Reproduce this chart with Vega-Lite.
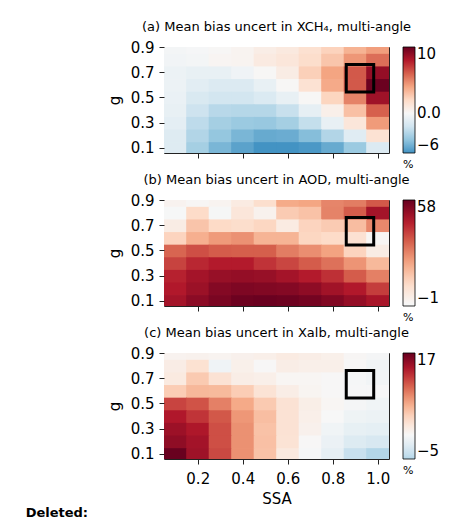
{
  "$schema": "https://vega.github.io/schema/vega-lite/v6.json",
  "padding": {"left": 25, "top": 20, "right": 0, "bottom": 0},
  "config": {
    "font": "DejaVu Sans",
    "view": {"stroke": "#222", "strokeWidth": 1},
    "axis": {"domain": false, "grid": false, "tickColor": "#222", "tickSize": 5, "tickWidth": 1, "labelFontSize": 15, "labelColor": "#000", "titleFontSize": 15, "titleFontWeight": "normal", "titleColor": "#000"},
    "axisY": {"labelPadding": 5, "titlePadding": 8},
    "axisX": {"labelPadding": 7, "titlePadding": 5},
    "legend": {"orient": "right", "offset": 14, "padding": 0, "gradientLength": 106, "gradientThickness": 12, "gradientStrokeColor": "#000", "gradientStrokeWidth": 0.8, "labelFontSize": 15, "labelColor": "#000", "labelOffset": 7, "labelBaseline": "middle", "labelOverlap": false, "titleOrient": "bottom", "titleFontSize": 11, "titleFontWeight": "normal", "titleColor": "#000", "titleAnchor": "start", "titlePadding": 6}
  },
  "datasets": {
    "box": [{"x1": 0.86, "x2": 0.982, "y1": 0.543, "y2": 0.762}],
    "a": [
      {"ssa":0.1,"g":0.9,"v":-0.2},{"ssa":0.2,"g":0.9,"v":-0.1},{"ssa":0.3,"g":0.9,"v":0.1},{"ssa":0.4,"g":0.9,"v":0.3},{"ssa":0.5,"g":0.9,"v":0.7},{"ssa":0.6,"g":0.9,"v":1.0},{"ssa":0.7,"g":0.9,"v":1.6},{"ssa":0.8,"g":0.9,"v":2.3},{"ssa":0.9,"g":0.9,"v":3.5},{"ssa":1.0,"g":0.9,"v":4.2},
      {"ssa":0.1,"g":0.8,"v":-0.3},{"ssa":0.2,"g":0.8,"v":-0.2},{"ssa":0.3,"g":0.8,"v":0.2},{"ssa":0.4,"g":0.8,"v":0.3},{"ssa":0.5,"g":0.8,"v":0.9},{"ssa":0.6,"g":0.8,"v":1.2},{"ssa":0.7,"g":0.8,"v":1.8},{"ssa":0.8,"g":0.8,"v":2.8},{"ssa":0.9,"g":0.8,"v":4.4},{"ssa":1.0,"g":0.8,"v":5.6},
      {"ssa":0.1,"g":0.7,"v":-0.6},{"ssa":0.2,"g":0.7,"v":-0.8},{"ssa":0.3,"g":0.7,"v":-0.8},{"ssa":0.4,"g":0.7,"v":-0.4},{"ssa":0.5,"g":0.7,"v":0.1},{"ssa":0.6,"g":0.7,"v":0.8},{"ssa":0.7,"g":0.7,"v":2.4},{"ssa":0.8,"g":0.7,"v":4.0},{"ssa":0.9,"g":0.7,"v":6.2},{"ssa":1.0,"g":0.7,"v":8.8},
      {"ssa":0.1,"g":0.6,"v":-0.6},{"ssa":0.2,"g":0.6,"v":-1.1},{"ssa":0.3,"g":0.6,"v":-1.4},{"ssa":0.4,"g":0.6,"v":-1.4},{"ssa":0.5,"g":0.6,"v":-0.8},{"ssa":0.6,"g":0.6,"v":0.1},{"ssa":0.7,"g":0.6,"v":1.5},{"ssa":0.8,"g":0.6,"v":3.8},{"ssa":0.9,"g":0.6,"v":6.2},{"ssa":1.0,"g":0.6,"v":9.9},
      {"ssa":0.1,"g":0.5,"v":-0.7},{"ssa":0.2,"g":0.5,"v":-1.6},{"ssa":0.3,"g":0.5,"v":-1.9},{"ssa":0.4,"g":0.5,"v":-1.9},{"ssa":0.5,"g":0.5,"v":-1.5},{"ssa":0.6,"g":0.5,"v":-0.8},{"ssa":0.7,"g":0.5,"v":0.1},{"ssa":0.8,"g":0.5,"v":2.2},{"ssa":0.9,"g":0.5,"v":5.0},{"ssa":1.0,"g":0.5,"v":8.5},
      {"ssa":0.1,"g":0.4,"v":-0.8},{"ssa":0.2,"g":0.4,"v":-2.1},{"ssa":0.3,"g":0.4,"v":-2.8},{"ssa":0.4,"g":0.4,"v":-2.9},{"ssa":0.5,"g":0.4,"v":-2.9},{"ssa":0.6,"g":0.4,"v":-2.3},{"ssa":0.7,"g":0.4,"v":-0.9},{"ssa":0.8,"g":0.4,"v":0.6},{"ssa":0.9,"g":0.4,"v":3.0},{"ssa":1.0,"g":0.4,"v":6.0},
      {"ssa":0.1,"g":0.3,"v":-1.0},{"ssa":0.2,"g":0.3,"v":-2.6},{"ssa":0.3,"g":0.3,"v":-3.4},{"ssa":0.4,"g":0.3,"v":-3.7},{"ssa":0.5,"g":0.3,"v":-3.8},{"ssa":0.6,"g":0.3,"v":-3.4},{"ssa":0.7,"g":0.3,"v":-2.4},{"ssa":0.8,"g":0.3,"v":-0.8},{"ssa":0.9,"g":0.3,"v":1.2},{"ssa":1.0,"g":0.3,"v":4.3},
      {"ssa":0.1,"g":0.2,"v":-1.3},{"ssa":0.2,"g":0.2,"v":-3.0},{"ssa":0.3,"g":0.2,"v":-3.9},{"ssa":0.4,"g":0.2,"v":-4.6},{"ssa":0.5,"g":0.2,"v":-5.1},{"ssa":0.6,"g":0.2,"v":-5.0},{"ssa":0.7,"g":0.2,"v":-4.3},{"ssa":0.8,"g":0.2,"v":-3.0},{"ssa":0.9,"g":0.2,"v":-1.2},{"ssa":1.0,"g":0.2,"v":1.5},
      {"ssa":0.1,"g":0.1,"v":-1.3},{"ssa":0.2,"g":0.1,"v":-3.4},{"ssa":0.3,"g":0.1,"v":-4.6},{"ssa":0.4,"g":0.1,"v":-5.4},{"ssa":0.5,"g":0.1,"v":-6.0},{"ssa":0.6,"g":0.1,"v":-6.0},{"ssa":0.7,"g":0.1,"v":-5.8},{"ssa":0.8,"g":0.1,"v":-5.1},{"ssa":0.9,"g":0.1,"v":-3.7},{"ssa":1.0,"g":0.1,"v":-1.4}
    ],
    "b": [
      {"ssa":0.1,"g":0.9,"v":2},{"ssa":0.2,"g":0.9,"v":0.8},{"ssa":0.3,"g":0.9,"v":1.8},{"ssa":0.4,"g":0.9,"v":5},{"ssa":0.5,"g":0.9,"v":10},{"ssa":0.6,"g":0.9,"v":22},{"ssa":0.7,"g":0.9,"v":23},{"ssa":0.8,"g":0.9,"v":28.5},{"ssa":0.9,"g":0.9,"v":30},{"ssa":1.0,"g":0.9,"v":36},
      {"ssa":0.1,"g":0.8,"v":-0.3},{"ssa":0.2,"g":0.8,"v":11},{"ssa":0.3,"g":0.8,"v":-0.6},{"ssa":0.4,"g":0.8,"v":7},{"ssa":0.5,"g":0.8,"v":2.5},{"ssa":0.6,"g":0.8,"v":15},{"ssa":0.7,"g":0.8,"v":17},{"ssa":0.8,"g":0.8,"v":29},{"ssa":0.9,"g":0.8,"v":35.5},{"ssa":1.0,"g":0.8,"v":48.5},
      {"ssa":0.1,"g":0.7,"v":4.5},{"ssa":0.2,"g":0.7,"v":16.5},{"ssa":0.3,"g":0.7,"v":11.5},{"ssa":0.4,"g":0.7,"v":10.5},{"ssa":0.5,"g":0.7,"v":12.5},{"ssa":0.6,"g":0.7,"v":5},{"ssa":0.7,"g":0.7,"v":13},{"ssa":0.8,"g":0.7,"v":15},{"ssa":0.9,"g":0.7,"v":18},{"ssa":1.0,"g":0.7,"v":28},
      {"ssa":0.1,"g":0.6,"v":13},{"ssa":0.2,"g":0.6,"v":21},{"ssa":0.3,"g":0.6,"v":25},{"ssa":0.4,"g":0.6,"v":26.5},{"ssa":0.5,"g":0.6,"v":20},{"ssa":0.6,"g":0.6,"v":20},{"ssa":0.7,"g":0.6,"v":12.5},{"ssa":0.8,"g":0.6,"v":11},{"ssa":0.9,"g":0.6,"v":9},{"ssa":1.0,"g":0.6,"v":1},
      {"ssa":0.1,"g":0.5,"v":34},{"ssa":0.2,"g":0.5,"v":37.5},{"ssa":0.3,"g":0.5,"v":35.5},{"ssa":0.4,"g":0.5,"v":35},{"ssa":0.5,"g":0.5,"v":35},{"ssa":0.6,"g":0.5,"v":30},{"ssa":0.7,"g":0.5,"v":27},{"ssa":0.8,"g":0.5,"v":23.5},{"ssa":0.9,"g":0.5,"v":13},{"ssa":1.0,"g":0.5,"v":4.5},
      {"ssa":0.1,"g":0.4,"v":39.5},{"ssa":0.2,"g":0.4,"v":44},{"ssa":0.3,"g":0.4,"v":46},{"ssa":0.4,"g":0.4,"v":46},{"ssa":0.5,"g":0.4,"v":42},{"ssa":0.6,"g":0.4,"v":39},{"ssa":0.7,"g":0.4,"v":35.5},{"ssa":0.8,"g":0.4,"v":32},{"ssa":0.9,"g":0.4,"v":26},{"ssa":1.0,"g":0.4,"v":19},
      {"ssa":0.1,"g":0.3,"v":45},{"ssa":0.2,"g":0.3,"v":48.5},{"ssa":0.3,"g":0.3,"v":50.5},{"ssa":0.4,"g":0.3,"v":51},{"ssa":0.5,"g":0.3,"v":50.5},{"ssa":0.6,"g":0.3,"v":48.5},{"ssa":0.7,"g":0.3,"v":46},{"ssa":0.8,"g":0.3,"v":42.5},{"ssa":0.9,"g":0.3,"v":35.5},{"ssa":1.0,"g":0.3,"v":29.5},
      {"ssa":0.1,"g":0.2,"v":46.5},{"ssa":0.2,"g":0.2,"v":50},{"ssa":0.3,"g":0.2,"v":53.5},{"ssa":0.4,"g":0.2,"v":54.5},{"ssa":0.5,"g":0.2,"v":54},{"ssa":0.6,"g":0.2,"v":53.5},{"ssa":0.7,"g":0.2,"v":52},{"ssa":0.8,"g":0.2,"v":49},{"ssa":0.9,"g":0.2,"v":46.5},{"ssa":1.0,"g":0.2,"v":40.5},
      {"ssa":0.1,"g":0.1,"v":48.5},{"ssa":0.2,"g":0.1,"v":52.5},{"ssa":0.3,"g":0.1,"v":55},{"ssa":0.4,"g":0.1,"v":57},{"ssa":0.5,"g":0.1,"v":57.5},{"ssa":0.6,"g":0.1,"v":57},{"ssa":0.7,"g":0.1,"v":56},{"ssa":0.8,"g":0.1,"v":54},{"ssa":0.9,"g":0.1,"v":51},{"ssa":1.0,"g":0.1,"v":48}
    ],
    "c": [
      {"ssa":0.1,"g":0.9,"v":0.6},{"ssa":0.2,"g":0.9,"v":0.7},{"ssa":0.3,"g":0.9,"v":0.5},{"ssa":0.4,"g":0.9,"v":0.8},{"ssa":0.5,"g":0.9,"v":1.0},{"ssa":0.6,"g":0.9,"v":1.5},{"ssa":0.7,"g":0.9,"v":1.2},{"ssa":0.8,"g":0.9,"v":0.9},{"ssa":0.9,"g":0.9,"v":0.2},{"ssa":1.0,"g":0.9,"v":-0.3},
      {"ssa":0.1,"g":0.8,"v":1.3},{"ssa":0.2,"g":0.8,"v":2.6},{"ssa":0.3,"g":0.8,"v":-0.7},{"ssa":0.4,"g":0.8,"v":0.9},{"ssa":0.5,"g":0.8,"v":0.1},{"ssa":0.6,"g":0.8,"v":1.2},{"ssa":0.7,"g":0.8,"v":1.0},{"ssa":0.8,"g":0.8,"v":1.0},{"ssa":0.9,"g":0.8,"v":0.1},{"ssa":1.0,"g":0.8,"v":-0.6},
      {"ssa":0.1,"g":0.7,"v":1.6},{"ssa":0.2,"g":0.7,"v":4.5},{"ssa":0.3,"g":0.7,"v":2.5},{"ssa":0.4,"g":0.7,"v":1.2},{"ssa":0.5,"g":0.7,"v":1.0},{"ssa":0.6,"g":0.7,"v":0.3},{"ssa":0.7,"g":0.7,"v":0.3},{"ssa":0.8,"g":0.7,"v":0.1},{"ssa":0.9,"g":0.7,"v":-0.2},{"ssa":1.0,"g":0.7,"v":-0.5},
      {"ssa":0.1,"g":0.6,"v":4.3},{"ssa":0.2,"g":0.6,"v":5.6},{"ssa":0.3,"g":0.6,"v":5.5},{"ssa":0.4,"g":0.6,"v":4.3},{"ssa":0.5,"g":0.6,"v":2.4},{"ssa":0.6,"g":0.6,"v":1.2},{"ssa":0.7,"g":0.6,"v":0.4},{"ssa":0.8,"g":0.6,"v":0.1},{"ssa":0.9,"g":0.6,"v":-0.1},{"ssa":1.0,"g":0.6,"v":-0.1},
      {"ssa":0.1,"g":0.5,"v":11.5},{"ssa":0.2,"g":0.5,"v":10.8},{"ssa":0.3,"g":0.5,"v":8.6},{"ssa":0.4,"g":0.5,"v":6.5},{"ssa":0.5,"g":0.5,"v":4.5},{"ssa":0.6,"g":0.5,"v":2.5},{"ssa":0.7,"g":0.5,"v":1.1},{"ssa":0.8,"g":0.5,"v":0.3},{"ssa":0.9,"g":0.5,"v":-0.3},{"ssa":1.0,"g":0.5,"v":-0.6},
      {"ssa":0.1,"g":0.4,"v":13.7},{"ssa":0.2,"g":0.4,"v":12.3},{"ssa":0.3,"g":0.4,"v":10.6},{"ssa":0.4,"g":0.4,"v":7.5},{"ssa":0.5,"g":0.4,"v":5.2},{"ssa":0.6,"g":0.4,"v":2.5},{"ssa":0.7,"g":0.4,"v":1.0},{"ssa":0.8,"g":0.4,"v":0.0},{"ssa":0.9,"g":0.4,"v":-0.8},{"ssa":1.0,"g":0.4,"v":-1.0},
      {"ssa":0.1,"g":0.3,"v":14.6},{"ssa":0.2,"g":0.3,"v":13.8},{"ssa":0.3,"g":0.3,"v":11.0},{"ssa":0.4,"g":0.3,"v":7.8},{"ssa":0.5,"g":0.3,"v":5.0},{"ssa":0.6,"g":0.3,"v":2.5},{"ssa":0.7,"g":0.3,"v":0.8},{"ssa":0.8,"g":0.3,"v":-0.6},{"ssa":0.9,"g":0.3,"v":-1.4},{"ssa":1.0,"g":0.3,"v":-1.6},
      {"ssa":0.1,"g":0.2,"v":15.2},{"ssa":0.2,"g":0.2,"v":14.3},{"ssa":0.3,"g":0.2,"v":11.0},{"ssa":0.4,"g":0.2,"v":7.8},{"ssa":0.5,"g":0.2,"v":5.1},{"ssa":0.6,"g":0.2,"v":2.4},{"ssa":0.7,"g":0.2,"v":0.1},{"ssa":0.8,"g":0.2,"v":-1.1},{"ssa":0.9,"g":0.2,"v":-2.3},{"ssa":1.0,"g":0.2,"v":-2.8},
      {"ssa":0.1,"g":0.1,"v":16.9},{"ssa":0.2,"g":0.1,"v":14.5},{"ssa":0.3,"g":0.1,"v":11.3},{"ssa":0.4,"g":0.1,"v":7.8},{"ssa":0.5,"g":0.1,"v":5.0},{"ssa":0.6,"g":0.1,"v":1.7},{"ssa":0.7,"g":0.1,"v":-0.2},{"ssa":0.8,"g":0.1,"v":-1.5},{"ssa":0.9,"g":0.1,"v":-3.9},{"ssa":1.0,"g":0.1,"v":-5.0}
    ]
  },
  "title": {"text": "Deleted:", "orient": "bottom", "anchor": "start", "fontSize": 13, "fontWeight": "bold", "color": "#000", "dx": -81, "offset": 0},
  "spacing": 2,
  "resolve": {"scale": {"color": "independent"}},
  "vconcat": [
    {
      "width": 225, "height": 106,
      "title": {"text": "(a) Mean bias uncert in XCH₄, multi-angle", "fontSize": 13, "fontWeight": "normal", "color": "#000", "offset": 6},
      "layer": [
        {
          "data": {"name": "a"},
          "mark": {"type": "rect", "clip": true, "binSpacing": 0, "x2Offset": -0.8, "y2Offset": 0.8},
          "encoding": {
            "x": {"field": "ssa", "type": "quantitative", "bin": {"step": 0.1, "anchor": 0.05, "extent": [0.05, 1.05]}, "scale": {"domain": [0.05, 1.05], "nice": false, "zero": false}, "axis": {"values": [0.2, 0.4, 0.6, 0.8, 1.0], "labels": false, "title": null}},
            "y": {"field": "g", "type": "quantitative", "bin": {"step": 0.1, "anchor": 0.05, "extent": [0.05, 0.95]}, "scale": {"domain": [0.06, 0.9], "nice": false, "zero": false}, "axis": {"values": [0.1, 0.3, 0.5, 0.7, 0.9], "format": ".1f", "title": "g"}},
            "color": {"field": "v", "type": "quantitative", "scale": {"domain": [-6, -4, -2, 0, 2, 4, 6, 8, 10], "range": ["#4393c3", "#92c5de", "#d1e5f0", "#f7f7f7", "#fddbc7", "#f4a582", "#d6604d", "#b2182b", "#67001f"], "interpolate": "rgb"}, "legend": {"title": "%", "values": [-6, 0, 10], "labelExpr": "datum.value === 0 ? '0.0' : datum.label"}}
          }
        },
        {
          "data": {"name": "box"},
          "mark": {"type": "rect", "fill": null, "filled": false, "stroke": "#000", "strokeWidth": 3},
          "encoding": {
            "x": {"field": "x1", "type": "quantitative", "axis": {"title": null}},
            "x2": {"field": "x2"},
            "y": {"field": "y1", "type": "quantitative", "axis": {"title": "g"}},
            "y2": {"field": "y2"}
          }
        }
      ]
    },
    {
      "width": 225, "height": 106,
      "title": {"text": "(b) Mean bias uncert in AOD, multi-angle", "fontSize": 13, "fontWeight": "normal", "color": "#000", "offset": 6},
      "layer": [
        {
          "data": {"name": "b"},
          "mark": {"type": "rect", "clip": true, "binSpacing": 0, "x2Offset": -0.8, "y2Offset": 0.8},
          "encoding": {
            "x": {"field": "ssa", "type": "quantitative", "bin": {"step": 0.1, "anchor": 0.05, "extent": [0.05, 1.05]}, "scale": {"domain": [0.05, 1.05], "nice": false, "zero": false}, "axis": {"values": [0.2, 0.4, 0.6, 0.8, 1.0], "labels": false, "title": null}},
            "y": {"field": "g", "type": "quantitative", "bin": {"step": 0.1, "anchor": 0.05, "extent": [0.05, 0.95]}, "scale": {"domain": [0.06, 0.9], "nice": false, "zero": false}, "axis": {"values": [0.1, 0.3, 0.5, 0.7, 0.9], "format": ".1f", "title": "g"}},
            "color": {"field": "v", "type": "quantitative", "scale": {"domain": [-1, 0, 11.6, 23.2, 34.8, 46.4, 58], "range": ["#f4f6f6", "#f7f7f7", "#fddbc7", "#f4a582", "#d6604d", "#b2182b", "#67001f"], "interpolate": "rgb"}, "legend": {"title": "%", "values": [-1, 58]}}
          }
        },
        {
          "data": {"name": "box"},
          "mark": {"type": "rect", "fill": null, "filled": false, "stroke": "#000", "strokeWidth": 3},
          "encoding": {
            "x": {"field": "x1", "type": "quantitative", "axis": {"title": null}},
            "x2": {"field": "x2"},
            "y": {"field": "y1", "type": "quantitative", "axis": {"title": "g"}},
            "y2": {"field": "y2"}
          }
        }
      ]
    },
    {
      "width": 225, "height": 106,
      "title": {"text": "(c) Mean bias uncert in Xalb, multi-angle", "fontSize": 13, "fontWeight": "normal", "color": "#000", "offset": 6},
      "layer": [
        {
          "data": {"name": "c"},
          "mark": {"type": "rect", "clip": true, "binSpacing": 0, "x2Offset": -0.8, "y2Offset": 0.8},
          "encoding": {
            "x": {"field": "ssa", "type": "quantitative", "bin": {"step": 0.1, "anchor": 0.05, "extent": [0.05, 1.05]}, "scale": {"domain": [0.05, 1.05], "nice": false, "zero": false}, "axis": {"values": [0.2, 0.4, 0.6, 0.8, 1.0], "format": ".1f", "title": "SSA"}},
            "y": {"field": "g", "type": "quantitative", "bin": {"step": 0.1, "anchor": 0.05, "extent": [0.05, 0.95]}, "scale": {"domain": [0.06, 0.9], "nice": false, "zero": false}, "axis": {"values": [0.1, 0.3, 0.5, 0.7, 0.9], "format": ".1f", "title": "g"}},
            "color": {"field": "v", "type": "quantitative", "scale": {"domain": [-5, -3.4, 0, 3.4, 6.8, 10.2, 13.6, 17], "range": ["#b3d6e8", "#d1e5f0", "#f7f7f7", "#fddbc7", "#f4a582", "#d6604d", "#b2182b", "#67001f"], "interpolate": "rgb"}, "legend": {"title": "%", "values": [-5, 17]}}
          }
        },
        {
          "data": {"name": "box"},
          "mark": {"type": "rect", "fill": null, "filled": false, "stroke": "#000", "strokeWidth": 3},
          "encoding": {
            "x": {"field": "x1", "type": "quantitative", "axis": {"title": "SSA"}},
            "x2": {"field": "x2"},
            "y": {"field": "y1", "type": "quantitative", "axis": {"title": "g"}},
            "y2": {"field": "y2"}
          }
        }
      ]
    }
  ]
}
